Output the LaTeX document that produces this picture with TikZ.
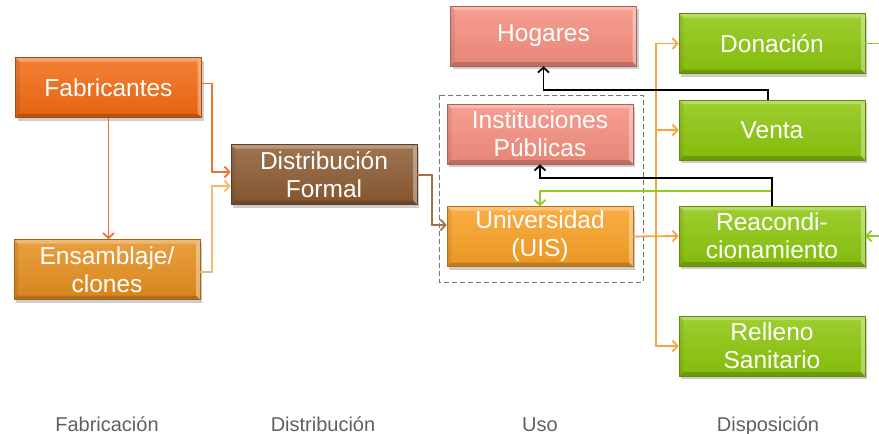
\documentclass[tikz,border=0pt]{standalone}
\usepackage{fontspec}
\setmainfont{Liberation Sans}
\usetikzlibrary{arrows.meta,shadows,calc}
\definecolor{cfab}{HTML}{F26A12}
\definecolor{cens}{HTML}{E58E1E}
\definecolor{cdist}{HTML}{8C5B32}
\definecolor{csal}{HTML}{F58E7E}
\definecolor{cuni}{HTML}{F8A024}
\definecolor{cgreen}{HTML}{8CC60C}
\definecolor{lfab}{HTML}{F4702A}
\definecolor{lens}{HTML}{F5B870}
\definecolor{ldist}{HTML}{A0714B}
\definecolor{ltree}{HTML}{FBA340}
\definecolor{lgreen}{HTML}{90CC22}
\definecolor{ctext}{HTML}{606060}
\begin{document}
\begin{tikzpicture}[x=1pt,y=-1pt,
  bevel/.style={path picture={
    \fill[white,opacity=0.28] (path picture bounding box.north west) -- (path picture bounding box.north east) -- ([xshift=-4pt,yshift=-4pt]path picture bounding box.north east) -- ([xshift=4pt,yshift=-4pt]path picture bounding box.north west) -- cycle;
    \fill[white,opacity=0.35] (path picture bounding box.north east) -- (path picture bounding box.south east) -- ([xshift=-4pt,yshift=4pt]path picture bounding box.south east) -- ([xshift=-4pt,yshift=-4pt]path picture bounding box.north east) -- cycle;
    \fill[black,opacity=0.18] (path picture bounding box.south west) -- (path picture bounding box.south east) -- ([xshift=-4pt,yshift=4pt]path picture bounding box.south east) -- ([xshift=4pt,yshift=4pt]path picture bounding box.south west) -- cycle;
    \fill[black,opacity=0.08] (path picture bounding box.north west) -- (path picture bounding box.south west) -- ([xshift=4pt,yshift=4pt]path picture bounding box.south west) -- ([xshift=4pt,yshift=-4pt]path picture bounding box.north west) -- cycle;
  }},
  box/.style={draw=#1!70!black, line width=0.6pt, top color=#1!85!white, bottom color=#1!94!black,
    minimum width=186pt, minimum height=60pt, inner sep=0pt, text=white, align=center,
    font=\fontsize{24.5}{28}\selectfont,
    drop shadow={shadow xshift=2pt,shadow yshift=-3pt,opacity=0.28,fill=black!70}, bevel},
  stage/.style={text=ctext, font=\fontsize{20}{24}\selectfont, anchor=base},
  conn/.style={line width=1.8pt, -{Straight Barb[length=5pt,width=11pt]}},
  plain/.style={line width=1.8pt},
]
\useasboundingbox (0,0) rectangle (879,434);

\draw[black!55, dash pattern=on 5pt off 3pt, line width=1pt] (439,95) rectangle (643,282);

\node[box=cfab]   (Fab) at (108.5,87.5) {Fabricantes};
\node[box=cens]   (Ens) at (107,269.5) {Ensamblaje/\\clones};
\node[box=cdist]  (Dis) at (324,174.5) {Distribución\\Formal};
\node[box=csal]   (Hog) at (543.5,36) {Hogares};
\node[box=csal]   (Ins) at (540,134) {Instituciones\\Públicas};
\node[box=cuni]   (Uni) at (540,236.5) {Universidad\\(UIS)};
\node[box=cgreen] (Don) at (772,43.5) {Donación};
\node[box=cgreen] (Ven) at (772,130) {Venta};
\node[box=cgreen] (Rea) at (772,236) {Reacondi-\\cionamiento};
\node[box=cgreen] (Rel) at (772,346) {Relleno\\Sanitario};

\node[stage] (s1) at (107,431) {Fabricación};
\node[stage] (s2) at (323,431) {Distribución};
\node[stage] (s3) at (540,431) {Uso};
\node[stage] (s4) at (768,431) {Disposición};

% fabrication
\draw[conn, lfab] (Fab.south) -- (Fab.south |- Ens.north);
\draw[conn, lfab] ([yshift=4pt]Fab.east) -- ++(10,0) |- ([yshift=2.5pt]Dis.west);
\draw[conn, lens] ([yshift=-2.5pt]Ens.east) -- ++(12,0) |- ([yshift=-11.5pt]Dis.west);
\draw[conn, ldist] ([yshift=-0.5pt]Dis.east) -- ++(15,0) |- ([yshift=11.5pt]Uni.west);

% disposal tree
\coordinate (T) at ($(Uni.east)!0.5!(Rea.west)$);
\draw[conn, ltree] (Uni.east) -- (Rea.west);
\draw[conn, ltree] (T) |- (Don.west);
\draw[conn, ltree] (T) |- (Ven.west);
\draw[conn, ltree] (T) |- (Rel.west);

% returns
\draw[conn, lgreen] (Rea.north) -- ++(0,-15) -| (Uni.north);
\draw[conn, black] ([xshift=-4pt]Ven.north) -- ++(0,-10) -| (Hog.south);
\draw[conn, black] (Rea.north) -- ++(0,-28) -| (Ins.south);

\coordinate (G1) at (879,43.5);
\coordinate (G2) at (879,236);
\draw[plain, lgreen] (Don.east) -- (G1);
\draw[conn, lgreen] (G2) -- (Rea.east);
\end{tikzpicture}
\end{document}
